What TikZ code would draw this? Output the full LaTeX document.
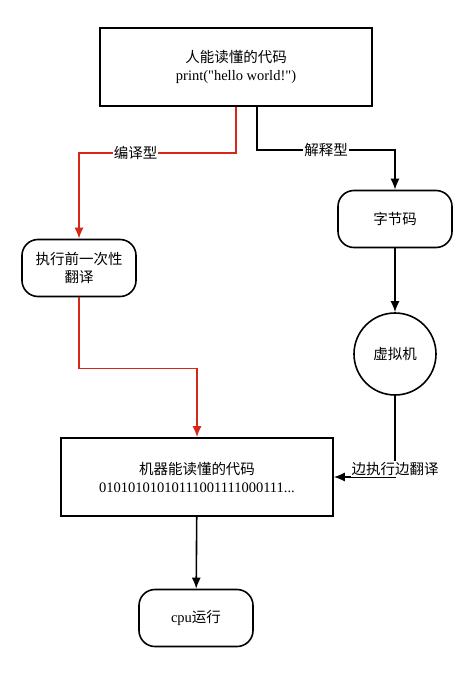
\documentclass[tikz,border=0pt]{standalone}
\usepackage{fontspec}
\setmainfont{Liberation Serif}
\newfontfamily\cjk{Noto Sans CJK SC}
\usetikzlibrary{arrows.meta}
\definecolor{compred}{RGB}{214,40,24}
\tikzset{
  codebox/.style={draw, minimum width=272pt, minimum height=78pt, align=center},
  pill/.style={draw, rounded corners=16pt, minimum width=114pt, minimum height=57pt, align=center},
  ring/.style={draw, circle, minimum size=82pt, inner sep=0pt},
  flow/.style={-{Latex[length=11pt,width=9pt]}},
  tag/.style={fill=white, inner sep=1pt}
}
\begin{document}
\begin{tikzpicture}[x=1pt, y=-1pt, line width=1.6pt, font=\fontsize{14.5}{18}\selectfont]
  \useasboundingbox (0,0) rectangle (458,680);
  \node[codebox] (src) at (236,67) {{\cjk 人能读懂的代码}\\print(\textquotedbl hello world!\textquotedbl)};
  \node[pill] (once) at (79,268) {{\cjk 执行前一次性}\\{\cjk 翻译}};
  \node[pill] (bytes) at (395,219) {\cjk 字节码};
  \node[ring] (vm) at (395,354) {\cjk 虚拟机};
  \node[codebox] (mach) at (197,477) {{\cjk 机器能读懂的代码}\\01010101010111001111000111...};
  \node[pill] (cpu) at (196,618) {cpu{\cjk 运行}};
  % compiled branch
  \draw[flow, compred] (src.south) -- ++(0,46) -| node[tag, pos=0.32, text=black] {\cjk 编译型} (once.north);
  \draw[flow, compred] (once.south) -- ++(0,71) -| (mach.north);
  % interpreted branch
  \draw[flow] ([xshift=21pt]src.south) -- ++(0,43) -| node[tag, pos=0.25] {\cjk 解释型} (bytes.north);
  \draw[flow] (bytes) -- (vm);
  \draw[flow] (vm.south) |- node[tag, pos=0.45] {\cjk 边执行边翻译} (mach.east);
  \draw[flow] (mach) -- (cpu);
\end{tikzpicture}
\end{document}
